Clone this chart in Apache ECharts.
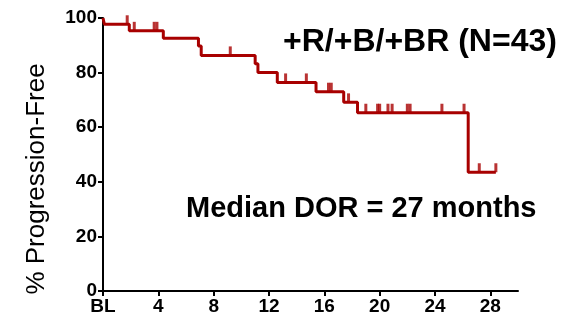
<!DOCTYPE html>
<html>
<head>
<meta charset="utf-8">
<script src="https://cdn.jsdelivr.net/npm/echarts@6/dist/echarts.min.js"></script>
<style>
  html, body { margin: 0; padding: 0; background: #fff; }
  #chart { width: 569px; height: 324px; }
</style>
</head>
<body>
<div id="chart"></div>
<script>
// Kaplan-Meier curve: event times (months) and survival level after each step
const stepMonths = [0, 0.1, 1.9, 4.36, 6.9, 7.1, 11.0, 11.2, 12.6, 15.4, 17.4, 18.4, 26.4, 28.4];
const stepLevels = [100, 97.7, 95.3, 92.6, 89.7, 86.3, 83.2, 80.0, 76.4, 73.0, 69.1, 65.3, 43.5, 43.5];

// Censored observations (months)
const censorMonths = [1.75, 2.26, 3.7, 3.9, 9.2, 13.2, 14.7, 16.3, 16.5, 17.75, 19.0, 19.85, 20.0,
                      20.6, 20.9, 22.0, 22.2, 24.5, 26.1, 27.2, 28.4];

// Axis ticks
const xTicks = [0, 4, 8, 12, 16, 20, 24, 28];
const xTickText = ['BL', '4', '8', '12', '16', '20', '24', '28'];

const yName = '% Progression-Free';
const titleText = '+R/+B/+BR (N=43)';
const noteText = 'Median DOR = 27 months';

// level of the step curve at a given month
function levelAt(m) {
  let v = stepLevels[0];
  for (let i = 0; i < stepMonths.length; i++) {
    if (stepMonths[i] <= m) v = stepLevels[i];
  }
  return v;
}

const curve = stepMonths.map((m, i) => [m, stepLevels[i]]);
const censors = censorMonths.map(m => [m, levelAt(m)]);

const RED = '#a80000';
const FONT = 'Liberation Sans, Arial, sans-serif';

const chart = echarts.init(document.getElementById('chart'), null, { renderer: 'canvas' });
chart.setOption({
  animation: false,
  backgroundColor: '#fff',
  grid: { left: 103, right: 51, top: 18, bottom: 33, containLabel: false },
  xAxis: {
    type: 'value', min: 0, max: 30,
    axisLine: { lineStyle: { color: '#000', width: 2 } },
    axisTick: { show: true, customValues: xTicks, length: 5, lineStyle: { color: '#000', width: 2 } },
    axisLabel: {
      customValues: xTicks,
      formatter: v => xTickText[xTicks.indexOf(v)],
      color: '#000', fontFamily: FONT, fontWeight: 'bold', fontSize: 19, margin: 6
    },
    splitLine: { show: false }
  },
  yAxis: {
    type: 'value', min: 0, max: 100, interval: 20,
    axisLine: { show: true, lineStyle: { color: '#000', width: 2 } },
    axisTick: { show: true, length: 5, lineStyle: { color: '#000', width: 2 } },
    axisLabel: { color: '#000', fontFamily: FONT, fontWeight: 'bold', fontSize: 19, margin: 6 },
    splitLine: { show: false }
  },
  series: [
    {
      type: 'line', data: curve, step: 'end', symbol: 'none',
      lineStyle: { color: RED, width: 3 }, z: 3
    },
    {
      type: 'scatter', data: censors, symbol: 'rect', symbolSize: [3, 9],
      symbolOffset: [0, -4.5], itemStyle: { color: RED }, z: 4
    }
  ],
  graphic: [
    {
      type: 'text', x: 37, y: 179, rotation: Math.PI / 2,
      style: { text: yName, fill: '#000', font: '26px ' + FONT, align: 'center', verticalAlign: 'middle' }
    },
    {
      type: 'text', x: 283, y: 42,
      style: { text: titleText, fill: '#000', font: 'bold 32px ' + FONT, align: 'left', verticalAlign: 'middle' }
    },
    {
      type: 'text', x: 186, y: 209,
      style: { text: noteText, fill: '#000', font: 'bold 29px ' + FONT, align: 'left', verticalAlign: 'middle' }
    }
  ]
});
</script>
</body>
</html>
